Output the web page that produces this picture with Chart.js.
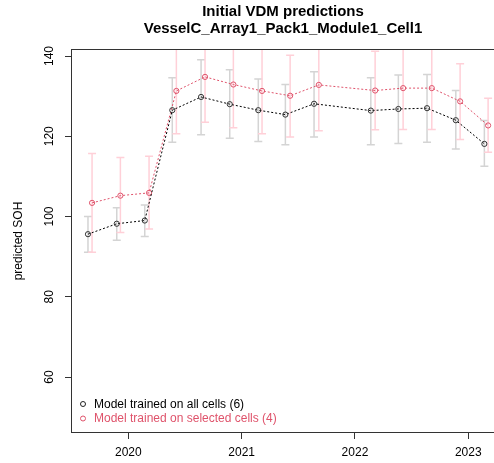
<!doctype html>
<html lang="en">
  <head>
    <meta charset="utf-8">
    <title>Initial VDM predictions</title>
    <script src="https://cdn.jsdelivr.net/npm/chart.js"></script>
    <style>
      html, body { margin: 0; padding: 0; background: #fff; }
      #wrap { width: 494px; height: 463px; }
    </style>
  </head>
  <body>
    <div id="wrap"><canvas id="sohChart" width="494" height="463"></canvas></div>
    <script>
      // ---- data ----
      const titleLines = ['Initial VDM predictions', 'VesselC_Array1_Pack1_Module1_Cell1'];
      const yTitle = 'predicted SOH';
      const legendLabels = ['Model trained on all cells (6)', 'Model trained on selected cells (4)'];

      // decimal years of the prediction dates (selected-cells series is drawn slightly shifted)
      const datesAll = [2019.644, 2019.898, 2020.145, 2020.388, 2020.642, 2020.895, 2021.147,
                        2021.386, 2021.639, 2022.140, 2022.383, 2022.636, 2022.890, 2023.142];
      const datesSel = [2019.680, 2019.930, 2020.183, 2020.424, 2020.677, 2020.927, 2021.180,
                        2021.428, 2021.681, 2022.178, 2022.425, 2022.678, 2022.928, 2023.175];

      const allMean = [95.6, 98.2, 99.0, 126.5, 129.8, 128.0, 126.5, 125.4, 128.1, 126.4, 126.8, 127.0, 124.0, 118.1];
      const allLow  = [91.1, 94.1, 95.0, 118.5, 120.4, 119.5, 118.7, 117.9, 119.8, 117.9, 118.2, 118.5, 116.8, 112.5];
      const allHigh = [100.0, 102.2, 102.9, 134.6, 139.1, 136.6, 134.3, 132.9, 136.1, 134.6, 135.3, 135.4, 131.4, 123.9];

      const selMean = [103.4, 105.2, 105.9, 131.3, 134.8, 132.9, 131.3, 130.1, 132.8, 131.4, 132.0, 132.0, 128.7, 122.7];
      const selLow  = [91.1, 96.0, 96.9, 120.6, 123.5, 122.1, 120.6, 119.8, 121.4, 121.6, 121.7, 121.7, 119.2, 116.0];
      const selHigh = [115.7, 114.7, 115.0, 142.0, 146.1, 143.7, 142.0, 140.2, 144.2, 141.2, 142.3, 142.3, 138.1, 129.5];

      const yearTicks = [2020, 2021, 2022, 2023];
      const sohTicks = [60, 80, 100, 120, 140];

      const black = '#000000';
      const pink = '#DF536B';
      const font = "'Liberation Sans', Arial, sans-serif";

      const toPoints = (xs, ys) => xs.map((x, i) => ({ x: x, y: ys[i] }));

      const errorBars = [
        { dates: datesAll, low: allLow, high: allHigh, color: '#d4d4d4' },
        { dates: datesSel, low: selLow, high: selHigh, color: '#ffd0d8' }
      ];

      const overlay = {
        id: 'overlay',
        beforeDatasetsDraw(chart) {
          const { ctx, chartArea: a, scales: { x, y } } = chart;
          ctx.save();
          ctx.beginPath();
          ctx.rect(a.left, a.top, a.right - a.left + 2, a.bottom - a.top);
          ctx.clip();
          errorBars.forEach(eb => {
            ctx.strokeStyle = eb.color;
            ctx.lineWidth = 1.5;
            eb.dates.forEach((d, i) => {
              const px = x.getPixelForValue(d);
              const lo = y.getPixelForValue(eb.low[i]);
              const hi = y.getPixelForValue(eb.high[i]);
              ctx.beginPath();
              ctx.moveTo(px, lo); ctx.lineTo(px, hi);
              ctx.moveTo(px - 4, lo); ctx.lineTo(px + 4, lo);
              ctx.moveTo(px - 4, hi); ctx.lineTo(px + 4, hi);
              ctx.stroke();
            });
          });
          ctx.restore();
        },
        afterDraw(chart) {
          const { ctx, chartArea: a, scales: { y } } = chart;
          ctx.save();
          // box (right side falls just outside the canvas, as in the reference)
          ctx.strokeStyle = '#333';
          ctx.lineWidth = 1;
          ctx.strokeRect(Math.round(a.left) - 0.5, Math.round(a.top) - 0.5,
                         Math.round(a.right - a.left) + 4, Math.round(a.bottom - a.top) + 1);

          // title
          const cx = (a.left + 494) / 2;
          ctx.fillStyle = '#000';
          ctx.textAlign = 'center';
          ctx.textBaseline = 'middle';
          ctx.font = 'bold 15px ' + font;
          ctx.fillText(titleLines[0], cx, 12);
          ctx.fillText(titleLines[1], cx, 29);

          // y tick labels, rotated like R
          ctx.font = '12px ' + font;
          sohTicks.forEach(t => {
            ctx.save();
            ctx.translate(50, y.getPixelForValue(t));
            ctx.rotate(-Math.PI / 2);
            ctx.fillText(String(t), 0, 0);
            ctx.restore();
          });

          // y axis title
          ctx.save();
          ctx.translate(19, (a.top + a.bottom) / 2);
          ctx.rotate(-Math.PI / 2);
          ctx.fillText(yTitle, 0, 0);
          ctx.restore();

          // legend
          const cols = ['#222', pink];
          ctx.textAlign = 'left';
          legendLabels.forEach((lab, i) => {
            const ly = 404 + i * 14.5;
            ctx.strokeStyle = cols[i];
            ctx.lineWidth = 1;
            ctx.beginPath();
            ctx.arc(83, ly, 2.5, 0, Math.PI * 2);
            ctx.stroke();
            ctx.fillStyle = i === 0 ? '#000' : pink;
            ctx.fillText(lab, 94, ly + 0.5);
          });
          ctx.restore();
        }
      };

      const ctx = document.getElementById('sohChart').getContext('2d');
      const myChart = new Chart(ctx, {
        type: 'line',
        data: {
          datasets: [{
            label: legendLabels[0],
            data: toPoints(datesAll, allMean),
            borderColor: black,
            borderWidth: 1,
            borderDash: [2, 2],
            pointStyle: 'circle',
            pointRadius: 2.6,
            pointBorderWidth: 1,
            pointBorderColor: '#333',
            pointBackgroundColor: 'rgba(255,255,255,0)',
            spanGaps: true,
            tension: 0,
            clip: false
          }, {
            label: legendLabels[1],
            data: toPoints(datesSel, selMean),
            borderColor: pink,
            borderWidth: 1,
            borderDash: [2, 2],
            pointStyle: 'circle',
            pointRadius: 2.6,
            pointBorderWidth: 1,
            pointBorderColor: pink,
            pointBackgroundColor: 'rgba(255,255,255,0)',
            tension: 0,
            clip: false
          }]
        },
        options: {
          responsive: false,
          animation: false,
          layout: { autoPadding: false, padding: { top: 50, left: 0, right: 0, bottom: 0 } },
          plugins: {
            legend: { display: false },
            title: { display: false },
            tooltip: { enabled: false }
          },
          scales: {
            x: {
              type: 'linear',
              min: 2019.503,
              max: 2023.227,
              afterBuildTicks: s => { s.ticks = yearTicks.map(v => ({ value: v })); },
              afterFit: s => { s.height = 31; s.paddingLeft = 0; s.paddingRight = 0; },
              border: { display: false },
              grid: { display: true, drawOnChartArea: false, drawTicks: true, tickLength: 7, color: '#333' },
              ticks: {
                color: '#000',
                font: { family: font, size: 12 },
                padding: 6,
                maxRotation: 0,
                autoSkip: false,
                callback: v => String(v)
              }
            },
            y: {
              min: 46.3,
              max: 141.5,
              afterBuildTicks: s => { s.ticks = sohTicks.map(v => ({ value: v })); },
              afterFit: s => { s.width = 72; s.paddingTop = 0; s.paddingBottom = 0; },
              border: { display: false },
              grid: { display: true, drawOnChartArea: false, drawTicks: true, tickLength: 7, color: '#333' },
              ticks: { display: false }
            }
          }
        },
        plugins: [overlay]
      });
    </script>
  </body>
</html>
